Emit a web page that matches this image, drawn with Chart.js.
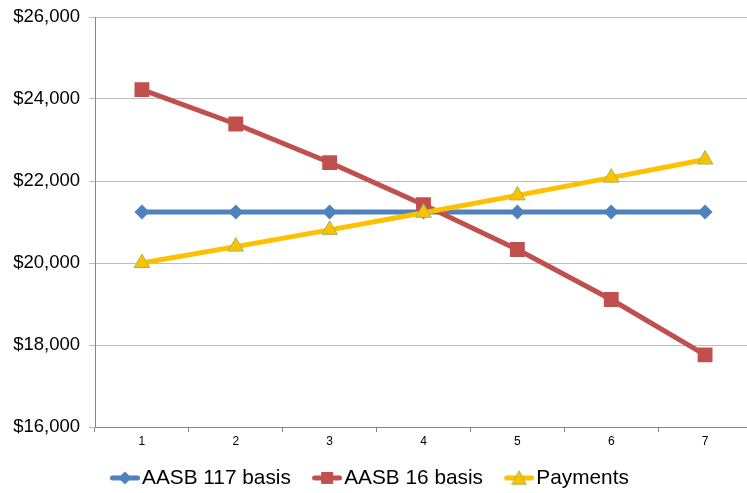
<!DOCTYPE html>
<html>
<head>
<meta charset="utf-8">
<title>Lease expense: AASB 117 vs AASB 16</title>
<script src="https://cdn.jsdelivr.net/npm/chart.js@4.4.1/dist/chart.umd.min.js"></script>
<style>
  html, body { margin: 0; padding: 0; background: #ffffff; overflow: hidden; }
  #wrap { width: 752px; height: 493px; }
</style>
</head>
<body>
<div id="wrap"><canvas id="chart" width="752" height="493"></canvas></div>
<script>
// Lease year
const periods = ['1', '2', '3', '4', '5', '6', '7'];

// Annual expense under each basis, and the cash payments
const aasb117Basis = [21241, 21241, 21241, 21241, 21241, 21241, 21241];
const aasb16Basis  = [24230, 23390, 22450, 21420, 20330, 19110, 17760];
const payments     = [20000, 20400, 20808, 21224, 21649, 22082, 22523];

// Value axis
const yMin = 16000;
const yMax = 26000;
const yStep = 2000;

const BLUE = '#4F81BD';
const RED = '#C0504D';
const GOLD = '#FFC000';
const GOLD_EDGE = '#9BBB59';
const FONT = 'Liberation Sans, Arial, Helvetica, sans-serif';

// Legend swatch: a short line with the series marker in its middle,
// drawn to the right of a transparent lead-in so items sit apart
const LEAD = 14;
function swatch(color, shape, size, edge) {
  const c = document.createElement('canvas');
  c.width = LEAD + 30; c.height = 18;
  const g = c.getContext('2d');
  const cx = LEAD + 15, cy = 9;
  g.strokeStyle = color;
  g.lineWidth = 5;
  g.lineCap = 'round';
  g.beginPath(); g.moveTo(LEAD + 2.5, cy); g.lineTo(LEAD + 27.5, cy); g.stroke();
  g.fillStyle = color;
  g.beginPath();
  if (shape === 'diamond') {
    g.moveTo(cx - size, cy); g.lineTo(cx, cy - size); g.lineTo(cx + size, cy); g.lineTo(cx, cy + size);
  } else if (shape === 'square') {
    g.rect(cx - size, cy - size, size * 2, size * 2);
  } else {
    g.moveTo(cx, cy - size); g.lineTo(cx + size, cy + size * 0.9); g.lineTo(cx - size, cy + size * 0.9);
  }
  g.closePath();
  g.fill();
  if (edge) { g.strokeStyle = edge; g.lineWidth = 1; g.stroke(); }
  return c;
}

const legendMarks = [
  swatch(BLUE, 'diamond', 6.5),
  swatch(RED, 'square', 6),
  swatch(GOLD, 'triangle', 7, GOLD_EDGE)
];

new Chart(document.getElementById('chart'), {
  type: 'line',
  data: {
    labels: periods,
    datasets: [
      {
        label: 'AASB 117 basis',
        data: aasb117Basis,
        borderColor: BLUE,
        backgroundColor: BLUE,
        borderWidth: 5,
        pointStyle: 'rectRot',
        pointRadius: 7.5,
        pointBorderWidth: 0,
        tension: 0,
        order: 3
      },
      {
        label: 'AASB 16 basis',
        data: aasb16Basis,
        borderColor: RED,
        backgroundColor: RED,
        borderWidth: 5,
        pointStyle: 'rect',
        pointRadius: 10.5,
        pointBorderWidth: 0,
        tension: 0,
        order: 2
      },
      {
        label: 'Payments',
        data: payments,
        borderColor: GOLD,
        backgroundColor: GOLD,
        borderWidth: 5,
        pointStyle: 'triangle',
        pointRadius: 9,
        pointBorderColor: GOLD_EDGE,
        pointBorderWidth: 1,
        tension: 0,
        order: 1
      }
    ]
  },
  options: {
    responsive: false,
    animation: false,
    events: [],
    layout: { autoPadding: false, padding: { top: 17, left: -19, right: 0, bottom: 0 } },
    plugins: {
      tooltip: { enabled: false },
      legend: {
        position: 'bottom',
        maxHeight: 41,
        labels: {
          usePointStyle: true,
          pointStyleWidth: 27.5,
          padding: 15.5,
          color: '#000000',
          font: { family: FONT, size: 20.8 },
          sort: (a, b) => a.datasetIndex - b.datasetIndex,
          generateLabels: (chart) => chart.data.datasets.map((ds, i) => ({
            text: ds.label,
            datasetIndex: i,
            pointStyle: legendMarks[i],
            fillStyle: ds.borderColor,
            strokeStyle: ds.borderColor,
            lineWidth: 0,
            hidden: false,
            fontColor: '#000000'
          }))
        }
      }
    },
    scales: {
      x: {
        offset: true,
        afterFit: (s) => { s.height = 25; },
        grid: {
          offset: true,
          drawOnChartArea: false,
          drawTicks: true,
          tickLength: 5,
          color: '#868686'
        },
        border: { display: true, color: '#868686', width: 1 },
        ticks: {
          color: '#000000',
          padding: 2,
          maxRotation: 0,
          font: { family: FONT, size: 12 }
        }
      },
      y: {
        min: yMin,
        max: yMax,
        afterFit: (s) => { s.width = 114; s.paddingTop = 0; s.paddingBottom = 0; },
        grid: {
          color: '#BEBEBE',
          lineWidth: 1,
          tickLength: 6
        },
        border: { display: true, color: '#868686', width: 1 },
        ticks: {
          stepSize: yStep,
          padding: 9,
          color: '#000000',
          font: { family: FONT, size: 18.5 },
          callback: (v) => '$' + Number(v).toLocaleString('en-US')
        }
      }
    }
  }
});
</script>
</body>
</html>
